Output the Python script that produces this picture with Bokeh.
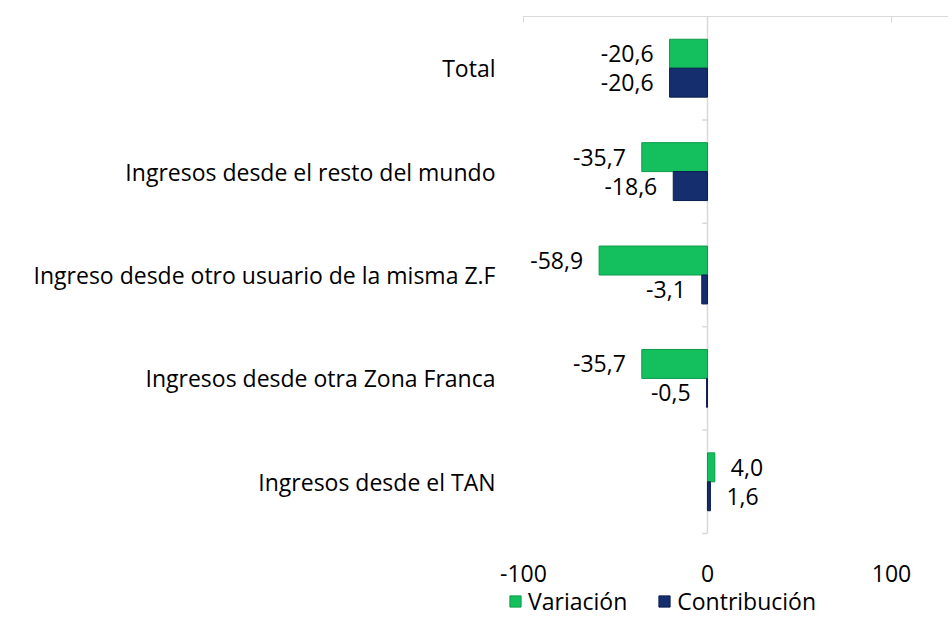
from bokeh.plotting import figure
from bokeh.models import (ColumnDataSource, Range1d, LinearAxis, Legend, LegendItem,
                          FixedTicker)
from bokeh.core.properties import value
from bokeh.embed import file_html
from bokeh.resources import INLINE

categories = ["Ingresos desde el TAN", "Ingresos desde otra Zona Franca",
              "Ingreso desde otro usuario de la misma Z.F",
              "Ingresos desde el resto del mundo", "Total"]
variacion = [4.0, -35.7, -58.9, -35.7, -20.6]
contribucion = [1.6, -0.5, -3.1, -18.6, -20.6]
x_ticks = [-100, 0, 100]

FONT = "Open Sans"
FS = "23px"
GREEN = "#14BF5E"
BLUE = "#142E6E"
GRAY = "#D9D9D9"
BAR_H = 0.28
PX_PER_CAT = 103.4
BOTTOM_EXTRA = 87 / PX_PER_CAT       # room under the categories for tick labels + legend
LABEL_DROP = 40 / PX_PER_CAT         # tick labels sit 40px under the plot area
X_MIN, X_MAX = -100, 131
X_START = X_MIN - 28 / 1.84          # extra room at left so "-100" is not clipped

def fmt(v):
    return f"{v:.1f}".replace(".", ",")

n = len(categories)
idx = list(range(n))

src = ColumnDataSource(dict(
    y_var=[i + BAR_H / 2 for i in idx],
    y_con=[i - BAR_H / 2 for i in idx],
    var=variacion,
    con=contribucion,
    var_lbl=[fmt(v) for v in variacion],
    con_lbl=[fmt(v) for v in contribucion],
    var_align=["right" if v < 0 else "left" for v in variacion],
    con_align=["right" if v < 0 else "left" for v in contribucion],
    var_off=[-16 if v < 0 else 16 for v in variacion],
    con_off=[-16 if v < 0 else 16 for v in contribucion],
    bound=[i - 0.5 for i in idx],
    zero=[0] * n,
    tick_end=[-2.8] * n,
))

tick_src = ColumnDataSource(dict(
    x=x_ticks,
    y=[-0.5 - LABEL_DROP] * len(x_ticks),
    t=[str(t) for t in x_ticks],
))

p = figure(frame_width=453, frame_height=604, output_backend="svg", toolbar_location=None,
           y_range=Range1d(-0.5 - BOTTOM_EXTRA, n - 0.5), x_range=Range1d(X_START, X_MAX),
           x_axis_location=None, y_axis_location=None,
           min_border_left=495, min_border_right=0, min_border_top=16,
           min_border_bottom=0)
p.outline_line_color = None
p.xgrid.visible = False
p.ygrid.visible = False

# left category labels
yax = LinearAxis(ticker=FixedTicker(ticks=idx),
                 major_label_overrides={i: c for i, c in zip(idx, categories)},
                 axis_line_color=None, major_tick_line_color=None,
                 minor_tick_line_color=None,
                 major_tick_out=0, major_tick_in=0, major_label_standoff=0,
                 major_label_text_font=FONT, major_label_text_font_size=FS,
                 major_label_text_color="#000000")
p.add_layout(yax, "left")

# top axis line with ticks pointing down
top_ax = LinearAxis(ticker=FixedTicker(ticks=x_ticks), bounds=(X_MIN, X_MAX),
                    axis_line_color=GRAY,
                    major_tick_line_color=GRAY, major_tick_in=6, major_tick_out=0,
                    minor_tick_line_color=None, major_label_text_font_size="0px",
                    major_label_standoff=0)
p.add_layout(top_ax, "above")

# vertical category axis at zero with ticks at category boundaries
p.segment(x0=0, x1=0, y0=-0.5, y1=n - 0.5, line_color=GRAY, line_width=1.5)
p.segment(x0="zero", x1="tick_end", y0="bound", y1="bound", source=src,
          line_color=GRAY, line_width=1.5)

r_var = p.hbar(y="y_var", left=0, right="var", height=BAR_H,
               source=src, fill_color=GREEN, line_color="#0E9A48", line_width=1)
r_con = p.hbar(y="y_con", left=0, right="con", height=BAR_H,
               source=src, fill_color=BLUE, line_color="#0B1E4E", line_width=1)

p.text(x="var", y="y_var", text="var_lbl", source=src,
       text_align="var_align", x_offset="var_off", text_baseline="middle",
       text_font=value(FONT), text_font_size=FS, text_color="#000000")
p.text(x="con", y="y_con", text="con_lbl", source=src,
       text_align="con_align", x_offset="con_off", text_baseline="middle",
       text_font=value(FONT), text_font_size=FS, text_color="#000000")

# value-axis tick labels under the plot area
p.text(x="x", y="y", text="t", source=tick_src, text_align="center",
       text_baseline="middle", text_font=value(FONT), text_font_size=FS,
       text_color="#000000")

legend = Legend(items=[LegendItem(label="Variación", renderers=[r_var]),
                       LegendItem(label="Contribución", renderers=[r_con])],
                orientation="horizontal", location=(13, 3),
                label_text_font=FONT, label_text_font_size=FS,
                label_text_color="#000000",
                glyph_width=14, glyph_height=14, spacing=30, padding=0, margin=0,
                label_height=20, label_text_line_height=1.0,
                border_line_color=None, background_fill_alpha=0, label_standoff=6)
p.add_layout(legend)

open("out.html", "w").write(file_html(p, INLINE))
